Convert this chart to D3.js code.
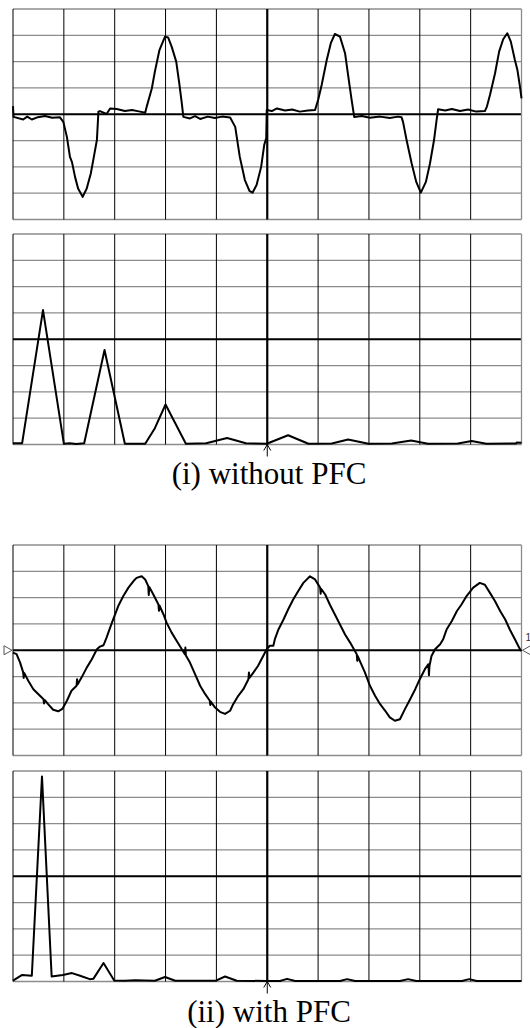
<!DOCTYPE html>
<html>
<head>
<meta charset="utf-8">
<script src="https://cdn.jsdelivr.net/npm/d3@7.9.0/dist/d3.min.js"></script>
<style>
  html, body { margin: 0; padding: 0; background: #fff; }
  svg { display: block; }
</style>
</head>
<body>
<svg id="chart" width="530" height="1028"></svg>
<script>
// ---- data (time in divisions 0-10, amplitude in divisions) ----
// current waveform without PFC
const wave1 = [
  [0, 0.31], [0.01, -0.10], [0.20, -0.20], [0.28, -0.09], [0.37, -0.20], [0.49, -0.11],
  [0.63, -0.07], [0.77, -0.13], [0.92, -0.11], [0.99, -0.29], [1.06, -0.86], [1.12, -1.62],
  [1.16, -1.82], [1.22, -2.38], [1.28, -2.82], [1.37, -3.14], [1.45, -2.82], [1.53, -2.25],
  [1.59, -1.62], [1.65, -0.98], [1.68, 0.10], [1.71, 0.12], [1.84, 0.01], [1.91, 0.22],
  [2.04, 0.20], [2.20, 0.12], [2.34, 0.16], [2.50, 0.10], [2.60, 0.06], [2.63, 0.29],
  [2.73, 0.98], [2.79, 1.62], [2.88, 2.44], [2.92, 2.63], [2.99, 2.95], [3.05, 2.92],
  [3.12, 2.57], [3.21, 2.00], [3.27, 1.17], [3.32, 0.41], [3.35, -0.10], [3.48, -0.16],
  [3.58, -0.07], [3.68, -0.18], [3.83, -0.09], [3.97, -0.14], [4.11, -0.09], [4.27, -0.12],
  [4.37, -0.48], [4.46, -1.62], [4.56, -2.50], [4.65, -2.91], [4.71, -2.98], [4.79, -2.69],
  [4.88, -2.00], [4.94, -1.17], [4.98, -0.90], [4.99, 0.16], [5.09, 0.12], [5.19, 0.22],
  [5.35, 0.14], [5.49, 0.18], [5.64, 0.10], [5.80, 0.14], [5.94, 0.16], [6.00, 0.54],
  [6.07, 1.11], [6.17, 2.06], [6.25, 2.70], [6.33, 3.05], [6.43, 2.95], [6.53, 2.32],
  [6.59, 1.49], [6.66, 0.54], [6.71, -0.10], [6.86, -0.07], [7.02, -0.13], [7.22, -0.09],
  [7.41, -0.14], [7.57, -0.09], [7.64, -0.11], [7.67, -0.29], [7.74, -0.98], [7.84, -1.87],
  [7.93, -2.57], [8.02, -2.98], [8.12, -2.57], [8.20, -1.87], [8.28, -0.98], [8.33, -0.22],
  [8.36, 0.19], [8.50, 0.14], [8.63, 0.20], [8.79, 0.12], [8.95, 0.18], [9.11, 0.10],
  [9.28, 0.12], [9.32, 0.29], [9.38, 0.73], [9.48, 1.56], [9.56, 2.38], [9.64, 2.85],
  [9.72, 3.08], [9.79, 2.76], [9.87, 2.06], [9.92, 1.68], [9.97, 1.05], [10.0, 0.60]
];

// harmonic spectrum without PFC (divisions above baseline)
const spec1 = [
  [0, 0.05], [0.18, 0.05], [0.59, 5.11], [1.00, 0.03], [1.12, 0.05], [1.24, 0.02],
  [1.40, 0.05], [1.80, 3.59], [2.20, 0.03], [2.60, 0.03], [2.79, 0.62], [3.00, 1.52],
  [3.40, 0.03], [3.80, 0.05], [4.21, 0.25], [4.58, 0.05], [4.99, 0.03], [5.41, 0.35],
  [5.81, 0.03], [6.27, 0.04], [6.59, 0.19], [6.99, 0.03], [7.45, 0.04], [7.83, 0.15],
  [8.16, 0.03], [8.75, 0.04], [9.02, 0.13], [9.31, 0.03], [9.89, 0.04], [9.91, 0.08],
  [10, 0.07]
];

// current waveform with PFC
const wave2 = [
  [0, -0.09], [0.07, -0.15], [0.14, -0.47], [0.20, -0.84], [0.21, -1.05], [0.22, -0.86],
  [0.30, -1.16], [0.40, -1.48], [0.50, -1.67], [0.60, -1.86], [0.61, -2.02], [0.63, -1.90],
  [0.69, -2.05], [0.79, -2.26], [0.89, -2.32], [0.97, -2.23], [1.06, -1.92], [1.15, -1.54],
  [1.25, -1.35], [1.26, -1.10], [1.27, -1.30], [1.35, -1.03], [1.45, -0.66], [1.55, -0.34],
  [1.65, 0.04], [1.71, 0.14], [1.78, 0.19], [1.84, 0.48], [1.91, 0.86], [1.97, 1.17],
  [2.07, 1.68], [2.17, 2.06], [2.27, 2.38], [2.37, 2.63], [2.43, 2.75], [2.53, 2.81],
  [2.60, 2.69], [2.66, 2.44], [2.67, 2.10], [2.68, 2.40], [2.76, 2.12], [2.86, 1.74],
  [2.87, 1.50], [2.88, 1.70], [2.96, 1.36], [3.02, 1.05], [3.12, 0.67], [3.22, 0.35],
  [3.32, 0.04], [3.38, -0.15], [3.39, 0.10], [3.40, -0.20], [3.48, -0.47], [3.58, -0.91],
  [3.68, -1.35], [3.78, -1.67], [3.87, -1.92], [3.88, -2.08], [3.89, -1.95], [3.97, -2.17],
  [4.07, -2.34], [4.17, -2.42], [4.27, -2.30], [4.33, -2.05], [4.43, -1.73], [4.53, -1.48],
  [4.63, -1.10], [4.64, -0.85], [4.65, -1.05], [4.73, -0.84], [4.82, -0.59], [4.92, -0.22],
  [4.99, 0.04], [5.05, 0.17], [5.12, 0.17], [5.15, 0.42], [5.22, 0.79], [5.32, 1.17],
  [5.41, 1.55], [5.51, 1.93], [5.61, 2.25], [5.71, 2.56], [5.84, 2.81], [5.94, 2.69],
  [6.04, 2.38], [6.05, 2.15], [6.06, 2.33], [6.14, 2.12], [6.23, 1.74], [6.33, 1.36],
  [6.43, 0.98], [6.53, 0.60], [6.63, 0.29], [6.76, -0.15], [6.77, -0.40], [6.78, -0.22],
  [6.82, -0.40], [6.92, -0.84], [7.02, -1.35], [7.12, -1.73], [7.22, -2.05], [7.32, -2.30],
  [7.41, -2.55], [7.51, -2.68], [7.61, -2.62], [7.71, -2.23], [7.81, -1.86], [7.91, -1.48],
  [8.00, -1.10], [8.10, -0.72], [8.17, -0.53], [8.18, -0.95], [8.19, -0.60], [8.23, -0.22],
  [8.30, 0.04], [8.40, 0.23], [8.46, 0.42], [8.53, 0.80], [8.63, 1.11], [8.73, 1.49],
  [8.82, 1.74], [8.92, 2.06], [9.05, 2.38], [9.18, 2.56], [9.28, 2.49], [9.38, 2.18],
  [9.48, 1.86], [9.58, 1.49], [9.68, 1.17], [9.77, 0.79], [9.87, 0.42], [9.97, 0.04],
  [10.0, -0.03]
];

// harmonic spectrum with PFC
const spec2 = [
  [0, 0.03], [0.18, 0.25], [0.37, 0.22], [0.57, 7.79], [0.76, 0.19], [0.98, 0.25],
  [1.16, 0.32], [1.32, 0.22], [1.51, 0.09], [1.58, 0.10], [1.78, 0.70], [1.99, 0.04],
  [2.20, 0.03], [2.40, 0.05], [2.79, 0.03], [2.99, 0.17], [3.19, 0.03], [3.99, 0.03],
  [4.17, 0.19], [4.40, 0.03], [4.99, 0.02], [5.25, 0.02], [5.39, 0.10], [5.55, 0.02],
  [6.43, 0.02], [6.57, 0.09], [6.73, 0.02], [7.61, 0.02], [7.77, 0.09], [7.93, 0.02],
  [8.83, 0.02], [8.97, 0.09], [9.12, 0.02], [10, 0.02]
];

const captions = ["(i) without PFC", "(ii) with PFC"];

// ---- layout ----
const left = 13, right = 521.5, panelH = 210.5;
const panels = [
  { top: 9,   domain: [-4, 4], data: wave1 },
  { top: 234, domain: [0, 8],  data: spec1, arrow: true },
  { top: 545, domain: [-4, 4], data: wave2, markers: true },
  { top: 771, domain: [0, 8],  data: spec2, arrow: true }
];
const captionY = [484, 1022];

const svg = d3.select('#chart');
const x = d3.scaleLinear().domain([0, 10]).range([left, right]);

panels.forEach(p => {
  const y = d3.scaleLinear().domain(p.domain).range([p.top + panelH, p.top]);
  const g = svg.append('g');
  const yMid = (p.domain[0] + p.domain[1]) / 2;

  // horizontal grid (gray), centre line black
  d3.range(p.domain[0], p.domain[1] + 1).forEach(v => {
    const mid = v === yMid;
    g.append('line')
      .attr('x1', x(0)).attr('x2', x(10))
      .attr('y1', y(v)).attr('y2', y(v))
      .attr('stroke', mid ? '#000' : '#8c8c8c')
      .attr('stroke-width', mid ? 2 : 1.3);
  });

  // vertical grid (black), right border gray, centre line thick
  d3.range(0, 11).forEach(t => {
    g.append('line')
      .attr('x1', x(t)).attr('x2', x(t))
      .attr('y1', y(p.domain[0])).attr('y2', y(p.domain[1]))
      .attr('stroke', t === 10 ? '#8c8c8c' : '#000')
      .attr('stroke-width', t === 5 ? 2.2 : (t === 10 ? 1.3 : 1));
  });

  // trace
  const line = d3.line().x(d => x(d[0])).y(d => y(d[1]));
  g.append('path')
    .datum(p.data)
    .attr('d', line)
    .attr('fill', 'none')
    .attr('stroke', '#000')
    .attr('stroke-width', 2)
    .attr('stroke-linejoin', 'round');

  // centre arrow under spectrum panels
  if (p.arrow) {
    const ax = x(5), ay = y(p.domain[0]);
    g.append('path')
      .attr('d', `M${ax},${ay + 12}L${ax},${ay}M${ax - 3.5},${ay + 6}L${ax},${ay}L${ax + 3.5},${ay + 6}`)
      .attr('fill', 'none')
      .attr('stroke', '#000')
      .attr('stroke-width', 1);
  }

  // ground-level markers on the PFC waveform
  if (p.markers) {
    const my = y(0);
    g.append('path')
      .attr('d', `M${x(0) - 9},${my - 4.5}L${x(0) - 1},${my}L${x(0) - 9},${my + 4.5}Z`)
      .attr('fill', '#fff')
      .attr('stroke', '#555')
      .attr('stroke-width', 1);
    g.append('path')
      .attr('d', `M${x(10) + 9},${my - 4.5}L${x(10) + 1},${my}L${x(10) + 9},${my + 4.5}Z`)
      .attr('fill', '#fff')
      .attr('stroke', '#555')
      .attr('stroke-width', 1);
    g.append('text')
      .attr('x', x(10) + 4).attr('y', my - 9)
      .attr('font-family', 'Liberation Sans, sans-serif')
      .attr('font-size', 10)
      .attr('fill', '#333')
      .text('1');
  }
});

// captions
captions.forEach((c, i) => {
  svg.append('text')
    .attr('x', 269)
    .attr('y', captionY[i])
    .attr('text-anchor', 'middle')
    .attr('font-family', 'Liberation Serif, Times New Roman, serif')
    .attr('font-size', 31)
    .attr('fill', '#000')
    .text(c);
});
</script>
</body>
</html>
